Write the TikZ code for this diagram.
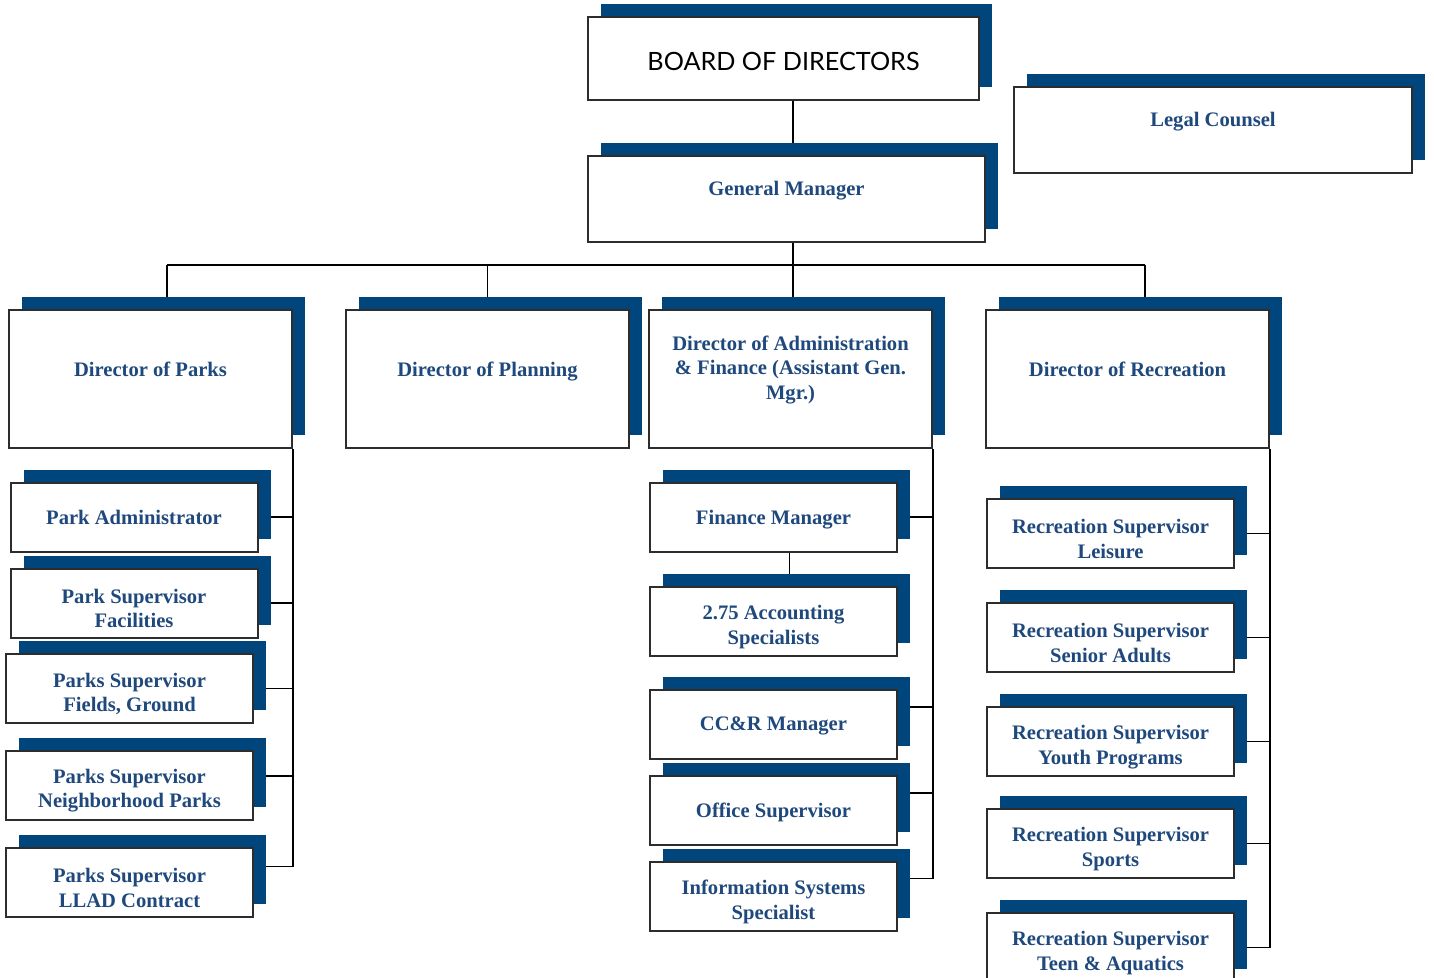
\documentclass[tikz,border=0pt]{standalone}
\usepackage{fontspec}
\setmainfont{Liberation Serif}
\newfontfamily\boardfont{Lato}
\usepackage{tikz}
\usetikzlibrary{shadows,backgrounds,positioning}

\definecolor{navy}{RGB}{0,70,125}
\definecolor{txtblue}{RGB}{31,73,125}
\definecolor{edgegray}{RGB}{45,45,45}

\newcommand{\unitfont}{\fontsize{10.3}{12.3}\selectfont\bfseries}

\tikzset{
  box/.style={draw=edgegray, line width=1pt, fill=white, inner sep=0pt, align=center,
    text=txtblue, font=\unitfont,
    general shadow={fill=navy, shadow xshift=6.5pt, shadow yshift=6.5pt}},
  dirbox/.style={box, minimum width=141.5pt, minimum height=69pt},
  unitbox/.style={box, minimum width=123.5pt, minimum height=34.5pt, text depth=0pt},
  twobox/.style={box, minimum width=123.5pt, minimum height=34.5pt,
    label={[toplabel,yshift=-2.75pt]center:{#1}}},
  toplabel/.style={text=txtblue, font=\unitfont, align=center},
  wire/.style={draw=black, line width=0.75pt}
}

\begin{document}
\begin{tikzpicture}[x=0.5pt, y=-0.5pt]

\clip (0,0) rectangle (1434,978);

\node[box, minimum width=195.5pt, minimum height=41.5pt,
  label={[yshift=-1.5pt, font=\boardfont\fontsize{12.6}{15}\selectfont]center:BOARD OF DIRECTORS}] (board) at (783.5,58.5) {};
\node[box, minimum width=199pt, minimum height=43pt,
  label={[toplabel,yshift=4pt]center:Legal Counsel}] (legal) at (1213,130) {};
\node[box, minimum width=198.5pt, minimum height=43pt,
  label={[toplabel,yshift=4pt]center:General Manager}] (gm) at (786.5,199) {};

\node[dirbox, label={[toplabel,yshift=5pt]center:Director of Parks}] (parks) at (150.5,379) {};
\node[dirbox, label={[toplabel,yshift=3.5pt]center:Director of Planning}] (planning) at (487.5,379) {};
\node[dirbox, label={[toplabel,yshift=4.5pt]center:{Director of Administration\\\& Finance (Assistant Gen.\\Mgr.)}}] (admin) at (790.5,379) {};
\node[dirbox, label={[toplabel,yshift=5pt]center:Director of Recreation}] (rec) at (1127.5,379) {};

\node[unitbox] (padmin) at (134,517) {Park Administrator};
\node[twobox={Park Supervisor\\Facilities}] (pfac) at (134,603) {};
\node[twobox={Parks Supervisor\\Fields, Ground}] (pfield) at (129.5,688.5) {};
\node[twobox={Parks Supervisor\\Neighborhood Parks}] (pnbhd) at (129.5,785) {};
\node[twobox={Parks Supervisor\\LLAD Contract}] (pllad) at (129.5,882.5) {};

\node[unitbox] (finmgr) at (773.5,517) {Finance Manager};
\node[twobox={2.75 Accounting\\Specialists}] (acct) at (773.5,621.5) {};
\node[unitbox] (ccr) at (773.5,724) {CC\&R Manager};
\node[unitbox] (office) at (773.5,810.5) {Office Supervisor};
\node[twobox={Information Systems\\Specialist}] (infosys) at (773.5,896.5) {};

\node[twobox={Recreation Supervisor\\Leisure}] (rleis) at (1110.5,533.5) {};
\node[twobox={Recreation Supervisor\\Senior Adults}] (rsenior) at (1110.5,637.5) {};
\node[twobox={Recreation Supervisor\\Youth Programs}] (ryouth) at (1110.5,741.5) {};
\node[twobox={Recreation Supervisor\\Sports}] (rsports) at (1110.5,843.5) {};
\node[twobox={Recreation Supervisor\\Teen \& Aquatics}] (rteen) at (1110.5,947.5) {};

\begin{scope}[on background layer]
\coordinate (trunk) at (793,265);
\coordinate (busL) at (167,265);
\coordinate (busR) at (1145,265);

\draw[wire] (trunk |- board.south) -- (trunk |- gm.north);
\draw[wire] (trunk |- gm.south) -- (trunk);
\draw[wire] (busL) -- (busR);
\draw[wire] (busL) -- (busL |- parks.north);
\draw[wire] (planning.north |- trunk) -- (planning.north);
\draw[wire] (trunk) -- (trunk |- admin.north);
\draw[wire] (busR) -- (busR |- rec.north);

\draw[wire] (parks.south east) |- ([yshift=8pt]pllad.east);
\draw[wire] (padmin.east) -- (padmin.east -| parks.east);
\draw[wire] (pfac.east) -- (pfac.east -| parks.east);
\draw[wire] (pfield.east) -- (pfield.east -| parks.east);
\draw[wire] ([yshift=4.5pt]pnbhd.east) -- ([yshift=4.5pt]pnbhd.east -| parks.east);

\draw[wire] (admin.south east) |- ([yshift=9pt]infosys.east);
\draw[wire] (finmgr.east) -- (finmgr.east -| admin.east);
\draw[wire] ([yshift=8.5pt]ccr.east) -- ([yshift=8.5pt]ccr.east -| admin.east);
\draw[wire] ([yshift=8.75pt]office.east) -- ([yshift=8.75pt]office.east -| admin.east);
\draw[wire] ([xshift=8pt]finmgr.south) -- ([xshift=8pt]acct.north);

\draw[wire] (rec.south east) |- (rteen.east);
\draw[wire] (rleis.east) -- (rleis.east -| rec.east);
\draw[wire] (rsenior.east) -- (rsenior.east -| rec.east);
\draw[wire] (ryouth.east) -- (ryouth.east -| rec.east);
\draw[wire] (rsports.east) -- (rsports.east -| rec.east);
\end{scope}

\end{tikzpicture}
\end{document}
